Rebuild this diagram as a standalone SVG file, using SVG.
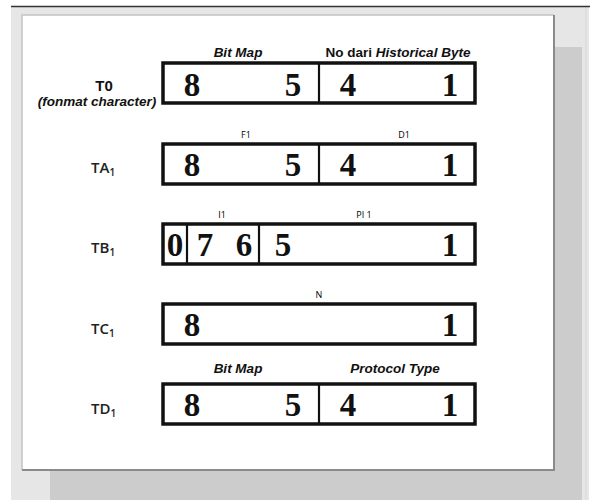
<svg xmlns="http://www.w3.org/2000/svg" width="590" height="502" viewBox="0 0 590 502">
<style>
.box{fill:none;stroke:#111;stroke-width:3.5}
.div{stroke:#111;stroke-width:2.2}
.dig{font-family:"Liberation Serif",serif;font-weight:bold;font-size:33px;fill:#111;text-anchor:middle}
.hdr{font-family:"Liberation Sans",Arial,sans-serif;font-weight:bold;font-style:italic;font-size:13.5px;fill:#111;text-anchor:middle}
.sm{font-family:"Open Sans","Liberation Sans",sans-serif;font-weight:normal;font-size:9px;fill:#000;text-anchor:middle}
.lbl{font-family:"Open Sans","Liberation Sans",sans-serif;font-weight:600;font-size:15px;fill:#222}
.sub{font-size:10px}
</style>
<rect x="0" y="0" width="590" height="502" fill="#ffffff"/>
<rect x="11" y="6" width="578" height="494" fill="#e6e6e6"/>
<line x1="586" y1="7" x2="586" y2="500" stroke="#d9d9d9" stroke-width="1"/>
<line x1="11" y1="6.5" x2="590" y2="6.5" stroke="#333" stroke-width="1.5"/>
<rect x="50" y="47" width="532" height="453" fill="#cccccc"/>
<rect x="22" y="15" width="532" height="455" fill="#ffffff"/>
<path d="M22 470 V15 H554" fill="none" stroke="#c4c4c4" stroke-width="1.5"/>
<path d="M22 470 H554 V15" fill="none" stroke="#8a8a8a" stroke-width="2"/>

<g id="T0">
<text x="104" y="91" font-family="Liberation Sans,Arial,sans-serif" font-weight="bold" font-size="15" text-anchor="middle" fill="#111">T0</text>
<text x="97" y="106" class="hdr" font-size="14">(fonmat character)</text>
<text x="238" y="57" class="hdr">Bit Map</text>
<text x="398" y="57" class="hdr"><tspan font-style="normal">No dari </tspan>Historical Byte</text>
<rect class="box" x="163" y="63" width="312" height="40"/>
<line class="div" x1="319" y1="63" x2="319" y2="103"/>
<text class="dig" x="192" y="96">8</text>
<text class="dig" x="293" y="96">5</text>
<text class="dig" x="348" y="96">4</text>
<text class="dig" x="450" y="96">1</text>
</g>

<g id="TA1">
<text x="91" y="173" class="lbl">TA<tspan class="sub" dy="3">1</tspan></text>
<text x="246" y="138" class="sm">F1</text>
<text x="404" y="138" class="sm">D1</text>
<rect class="box" x="163" y="144" width="312" height="40"/>
<line class="div" x1="319" y1="144" x2="319" y2="184"/>
<text class="dig" x="192" y="176">8</text>
<text class="dig" x="293" y="176">5</text>
<text class="dig" x="348" y="176">4</text>
<text class="dig" x="450" y="176">1</text>
</g>

<g id="TB1">
<text x="91" y="253" class="lbl">TB<tspan class="sub" dy="3">1</tspan></text>
<text x="222" y="218" class="sm">I1</text>
<text x="364" y="218" class="sm">PI 1</text>
<rect class="box" x="163" y="224" width="312" height="40"/>
<line class="div" x1="187" y1="224" x2="187" y2="264" stroke-width="2.6"/>
<line class="div" x1="259" y1="224" x2="259" y2="264" stroke-width="2.6"/>
<text class="dig" x="175" y="256">0</text>
<text class="dig" x="205" y="256">7</text>
<text class="dig" x="244" y="256">6</text>
<text class="dig" x="283" y="256">5</text>
<text class="dig" x="450" y="256">1</text>
</g>

<g id="TC1">
<text x="91" y="334" class="lbl">TC<tspan class="sub" dy="3">1</tspan></text>
<text x="319" y="298" class="sm">N</text>
<rect class="box" x="163" y="304" width="312" height="40"/>
<text class="dig" x="192" y="336">8</text>
<text class="dig" x="450" y="336">1</text>
</g>

<g id="TD1">
<text x="91" y="414" class="lbl">TD<tspan class="sub" dy="3">1</tspan></text>
<text x="238" y="373" class="hdr">Bit Map</text>
<text x="395" y="373" class="hdr">Protocol Type</text>
<rect class="box" x="163" y="384" width="312" height="40"/>
<line class="div" x1="319" y1="384" x2="319" y2="424"/>
<text class="dig" x="192" y="416">8</text>
<text class="dig" x="293" y="416">5</text>
<text class="dig" x="348" y="416">4</text>
<text class="dig" x="450" y="416">1</text>
</g>

<g id="connectors"></g>
</svg>
